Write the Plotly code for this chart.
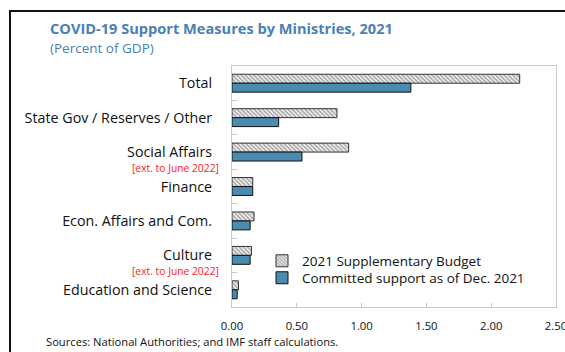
import plotly.graph_objects as go

# Ministries, top to bottom
categories = [
    "Total",
    "State Gov / Reserves / Other",
    "Social Affairs",
    "Finance",
    "Econ. Affairs and Com.",
    "Culture",
    "Education and Science",
]
# Percent of GDP
supplementary_budget = [2.22, 0.81, 0.90, 0.16, 0.17, 0.15, 0.05]
committed_support = [1.38, 0.36, 0.54, 0.16, 0.14, 0.14, 0.04]

x_tick_values = [0, 0.5, 1.0, 1.5, 2.0, 2.5]
x_tick_labels = ["0.00", "0.50", "1.00", "1.50", "2.00", "2.50"]

extended_categories = ["Social Affairs", "Culture"]
extension_note = "[ext. to June 2022]"

FONT = "Open Sans"
TEAL = "#4a8bb0"
BLUE_TITLE = "#4a7fb8"
AXIS_GREY = "#c8c8c8"

W, H = 565, 352
L, R, T, B = 232, 9, 66, 45
plot_w = W - L - R
plot_h = H - T - B


def px_to_paper_x(px):
    return (px - L) / plot_w


def px_to_paper_y(py):
    return (H - B - py) / plot_h


fig = go.Figure()
fig.add_trace(go.Bar(
    name="2021 Supplementary Budget",
    y=categories,
    x=supplementary_budget,
    orientation="h",
    legend="legend",
    marker=dict(
        color="white",
        line=dict(color="#333333", width=1),
        pattern=dict(shape="\\", fgcolor="#555555", bgcolor="white",
                     size=3, solidity=0.6),
    ),
))
fig.add_trace(go.Bar(
    name="Committed support as of Dec. 2021",
    y=categories,
    x=committed_support,
    orientation="h",
    legend="legend2",
    marker=dict(color=TEAL, line=dict(color="#111111", width=1)),
))

annotations = [
    dict(text="<b>COVID-19 Support Measures by Ministries, 2021</b>",
         x=px_to_paper_x(48), y=px_to_paper_y(28), xref="paper", yref="paper",
         xanchor="left", yanchor="middle", showarrow=False,
         font=dict(family=FONT, size=14.6, color=BLUE_TITLE)),
    dict(text="(Percent of GDP)",
         x=px_to_paper_x(48), y=px_to_paper_y(47.5), xref="paper", yref="paper",
         xanchor="left", yanchor="middle", showarrow=False,
         font=dict(family=FONT, size=13.5, color=BLUE_TITLE)),
    dict(text="Sources: National Authorities; and IMF staff calculations.",
         x=px_to_paper_x(44), y=px_to_paper_y(341), xref="paper", yref="paper",
         xanchor="left", yanchor="middle", showarrow=False,
         font=dict(family=FONT, size=11.2, color="#111111")),
]
for cat in extended_categories:
    annotations.append(dict(
        text=extension_note, x=px_to_paper_x(221), y=cat,
        xref="paper", yref="y", xanchor="right", yanchor="middle",
        yshift=-16, showarrow=False,
        font=dict(family=FONT, size=10.3, color="#ff2020"),
    ))

legend_style = dict(
    xanchor="left", yanchor="middle",
    bgcolor="rgba(0,0,0,0)", borderwidth=0,
    font=dict(family=FONT, size=13.5, color="#111111"),
    itemwidth=30,
)

fig.update_layout(
    width=W, height=H,
    margin=dict(l=L, r=R, t=T, b=B, pad=0, autoexpand=False),
    paper_bgcolor="white", plot_bgcolor="white",
    barmode="group", bargap=0.48, bargroupgap=0,
    font=dict(family=FONT, color="#111111"),
    showlegend=True,
    legend=dict(x=px_to_paper_x(262), y=px_to_paper_y(261), **legend_style),
    legend2=dict(x=px_to_paper_x(262), y=px_to_paper_y(278), **legend_style),
    annotations=annotations,
    shapes=[dict(
        type="rect", xref="paper", yref="paper",
        x0=px_to_paper_x(10), x1=px_to_paper_x(575),
        y0=px_to_paper_y(360), y1=px_to_paper_y(11),
        line=dict(color="#111111", width=2), fillcolor="rgba(0,0,0,0)",
        layer="below",
    )],
)

fig.update_xaxes(
    range=[0, 2.5], tickvals=x_tick_values, ticktext=x_tick_labels,
    ticks="inside", ticklen=4, tickcolor=AXIS_GREY,
    showline=True, linecolor=AXIS_GREY, linewidth=1, mirror=True,
    showgrid=False, zeroline=False, automargin=False,
    tickfont=dict(family=FONT, size=11.3, color="#111111"),
    ticklabelstandoff=8, ticklabeloverflow="allow",
)
fig.update_yaxes(
    categoryorder="array", categoryarray=categories, autorange="reversed",
    ticks="inside", ticklen=5, tickcolor=AXIS_GREY, tickson="boundaries",
    showline=True, linecolor=AXIS_GREY, linewidth=1, mirror=True,
    showgrid=False, zeroline=False, automargin=False,
    tickfont=dict(family=FONT, size=14.3, color="#111111"),
    ticklabelstandoff=16,
)

fig.write_html("out.html")
